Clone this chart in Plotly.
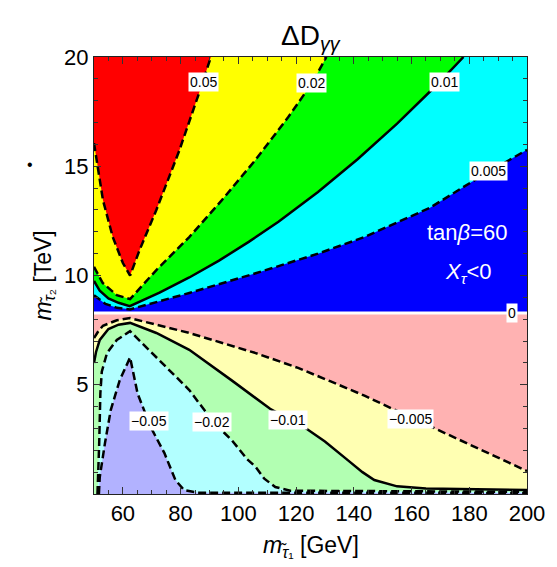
import plotly.graph_objects as go

# ---------------- axis extents ----------------
X_MIN, X_MAX = 50, 200
Y_MIN, Y_MAX = 0, 20
Y_ZERO = 8.28          # zero contour (sign change of ΔD)

x_tickvals = [60, 80, 100, 120, 140, 160, 180, 200]
y_tickvals = [5, 10, 15, 20]

# ---------------- positive contours (upper part) ----------------
p050_x = [50, 53.1, 56.5, 60, 62.5, 65.8, 71.6, 79.5, 86.4, 90.5]
p050_y = [16.06, 13.45, 11.76, 10.57, 10.0, 11.17, 13.0, 15.7, 18.35, 20]
p020_x = [50, 53, 57.9, 62.5, 71.6, 83, 94.3, 106, 117.3, 125.5, 130.5]
p020_y = [10.4, 9.66, 9.1, 8.92, 10.25, 11.76, 13.45, 15.3, 17.25, 18.8, 20]
p010_x = [50, 52, 55, 58.5, 62.4, 72.7, 83.0, 93.3, 103.6, 113.9, 127.6, 141.3, 155.0, 168.8, 178.0]
p010_y = [9.75, 9.3, 8.95, 8.75, 8.6, 9.22, 9.91, 10.68, 11.54, 12.46, 13.82, 15.32, 16.95, 18.73, 20.0]
p005_x = [50, 54, 58, 62.5, 83, 106, 127.6, 143.7, 166.4, 183.5, 200]
p005_y = [9.1, 8.7, 8.52, 8.45, 9.2, 10.1, 11.0, 11.76, 13.1, 14.5, 15.75]

# ---------------- negative contours (lower part) ----------------
m005_x = [50, 51.5, 53.1, 57.9, 62.5, 83, 106, 120.7, 132, 143.7, 155, 167.7, 183.5, 200]
m005_y = [7.14, 7.45, 7.7, 7.95, 8.05, 7.37, 6.45, 5.77, 5.15, 4.5, 3.8, 3.02, 2.06, 1.05]
m010_x = [50, 50.7, 52, 55, 58.5, 62.5, 71.6, 83, 97.7, 111, 123.5, 130, 137.9, 143, 147.1, 155, 165, 200]
m010_y = [6.0, 6.5, 7.05, 7.55, 7.75, 7.83, 7.37, 6.6, 5.2, 3.9, 3.0, 2.4, 1.55, 1.0, 0.64, 0.35, 0.25, 0.18]
m020_x = [51.2, 51.3, 51.8, 52.2, 52.7, 54.5, 57.9, 62.5, 71.6, 83, 86.4, 92, 97.7, 103, 106, 109, 112.8, 118, 200]
m020_y = [0, 0.3, 2.3, 4.6, 5.6, 6.45, 7.05, 7.45, 6.27, 4.76, 4.16, 3.2, 2.47, 1.6, 1.24, 0.7, 0.32, 0.15, 0.1]
m050_x = [51.7, 52, 53.8, 55.8, 58.9, 62.5, 65.1, 69.6, 74.4, 78.2, 81.2, 86, 200]
m050_y = [0, 0.78, 2.33, 3.84, 5.2, 6.25, 4.6, 3.07, 1.87, 0.64, 0.18, 0.06, 0.05]

# ---------------- contour labels ----------------
lbl_text = ["0.05", "0.02", "0.01", "0.005", "0", "\u22120.05", "\u22120.02", "\u22120.01", "\u22120.005"]
lbl_x = [88.1, 125.5, 171.5, 186.6, 194.9, 69.2, 90.9, 117.3, 159.5]
lbl_y = [18.85, 18.8, 18.85, 14.8, 8.28, 3.34, 3.3, 3.39, 3.45]

# ---------------- colours ----------------
C_BLUE, C_CYAN, C_GREEN, C_YELLOW, C_RED = "#0000FF", "#00FFFF", "#00FF00", "#FFFF00", "#FF0000"
L_RED, L_YELLOW, L_GREEN, L_CYAN, L_BLUE = "#FFB2B2", "#FFFFB2", "#B2FFB2", "#B2FFFF", "#B2B2FF"

FONT = "Liberation Sans, Arial, sans-serif"
DASH = "8px,4px"

fig = go.Figure()


def poly(xs, ys, color):
    fig.add_trace(go.Scatter(x=xs, y=ys, mode="lines", fill="toself", fillcolor=color,
                             line=dict(width=0, color=color), hoverinfo="skip", showlegend=False))


def curve(xs, ys, dash):
    fig.add_trace(go.Scatter(x=xs, y=ys, mode="lines",
                             line=dict(color="black", width=2.5, dash=dash),
                             hoverinfo="skip", showlegend=False))


# upper part fills
poly([X_MIN, X_MAX, X_MAX, X_MIN], [Y_ZERO, Y_ZERO, Y_MAX, Y_MAX], C_BLUE)
poly(p005_x + [X_MAX, X_MIN], p005_y + [Y_MAX, Y_MAX], C_CYAN)
poly(p010_x + [X_MIN], p010_y + [Y_MAX], C_GREEN)
poly(p020_x + [X_MIN], p020_y + [Y_MAX], C_YELLOW)
poly(p050_x + [X_MIN], p050_y + [Y_MAX], C_RED)

# lower part fills
poly([X_MIN, X_MAX, X_MAX, X_MIN], [Y_MIN, Y_MIN, Y_ZERO, Y_ZERO], L_RED)
poly(m005_x + [X_MAX, X_MIN], m005_y + [Y_MIN, Y_MIN], L_YELLOW)
poly(m010_x + [X_MAX, X_MIN], m010_y + [Y_MIN, Y_MIN], L_GREEN)
poly(m020_x + [X_MAX], m020_y + [Y_MIN], L_CYAN)
poly(m050_x + [X_MAX], m050_y + [Y_MIN], L_BLUE)

# contour lines
curve(p050_x, p050_y, DASH)
curve(p020_x, p020_y, DASH)
curve(p010_x, p010_y, "solid")
curve(p005_x, p005_y, DASH)
curve(m005_x, m005_y, DASH)
curve(m010_x, m010_y, "solid")
curve(m020_x, m020_y, DASH)
curve(m050_x, m050_y, DASH)
fig.add_trace(go.Scatter(x=[X_MIN, X_MAX], y=[Y_ZERO, Y_ZERO], mode="lines",
                         line=dict(color="white", width=3), hoverinfo="skip", showlegend=False))

for t, x, y in zip(lbl_text, lbl_x, lbl_y):
    fig.add_annotation(x=x, y=y, text=t, showarrow=False, bgcolor="white", borderpad=1,
                       font=dict(family=FONT, size=14, color="black"))

fig.add_annotation(x=179.4, y=11.95, text="tan<i>β</i>=60", showarrow=False,
                   xanchor="center", yanchor="middle",
                   font=dict(family=FONT, size=22, color="white"))
fig.add_annotation(x=179.8, y=10.1, text="<i>X</i><sub><i>τ</i></sub>&lt;0", showarrow=False,
                   xanchor="center", yanchor="middle",
                   font=dict(family=FONT, size=22, color="white"))

# titles
fig.add_annotation(xref="paper", yref="paper", x=0.5, y=1.0, yshift=20, text="ΔD<sub><i>γγ</i></sub>",
                   xanchor="center", yanchor="middle",
                   showarrow=False, font=dict(family=FONT, size=28, color="black"))
fig.add_annotation(xref="paper", yref="paper", x=0.5, y=0, yshift=-52,
                   xanchor="center", yanchor="middle",
                   text="<i>m</i><sub><i>τ̃</i>₁</sub> [GeV]",
                   showarrow=False, font=dict(family=FONT, size=23, color="black"))
fig.add_annotation(xref="paper", yref="paper", x=0, xshift=-50, y=0.5,
                   xanchor="center", yanchor="middle",
                   text="<i>m</i><sub><i>τ̃</i>₂</sub> [TeV]", textangle=-90,
                   showarrow=False, font=dict(family=FONT, size=23, color="black"))
fig.add_annotation(xref="paper", yref="paper", x=0, xshift=-64, y=0.753,
                   xanchor="center", yanchor="middle",
                   text="•", showarrow=False, font=dict(family=FONT, size=16, color="black"))

axis_common = dict(ticks="inside", ticklen=7, tickwidth=1, tickcolor="#333",
                   showline=True, linecolor="#222", linewidth=1, mirror="allticks",
                   showgrid=False, zeroline=False,
                   tickfont=dict(family=FONT, size=22, color="black"))

fig.update_xaxes(range=[X_MIN, X_MAX], tickvals=x_tickvals,
                 minor=dict(dtick=5, tick0=50, ticks="inside", ticklen=4, tickcolor="#333", showgrid=False),
                 **axis_common)
fig.update_yaxes(range=[Y_MIN, Y_MAX], tickvals=y_tickvals,
                 minor=dict(dtick=1, tick0=0, ticks="inside", ticklen=4, tickcolor="#333", showgrid=False),
                 **axis_common)

fig.update_layout(width=557, height=567, margin=dict(l=94, r=26, t=57, b=73),
                  paper_bgcolor="white", plot_bgcolor="white", showlegend=False)

fig.write_html("out.html")
